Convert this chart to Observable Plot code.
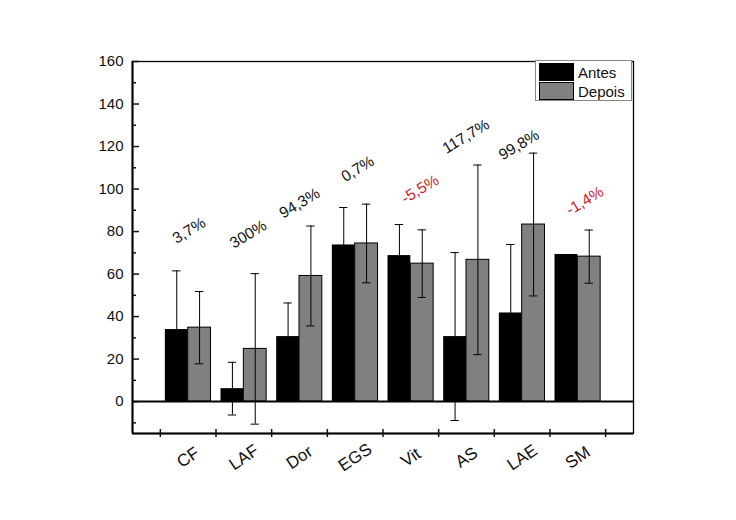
<!DOCTYPE html>
<html>
<head>
<meta charset="utf-8">
<script src="https://cdn.jsdelivr.net/npm/d3@7"></script>
<script src="https://cdn.jsdelivr.net/npm/@observablehq/plot@0.6"></script>
<style>
  html, body { margin: 0; padding: 0; background: white; }
  #wrap { position: relative; width: 736px; height: 520px; font-family: "Liberation Sans", Arial, sans-serif; }
  #legend { position: absolute; left: 535px; top: 60px; width: 97px; height: 41px; border: 1px solid #888; background: white; box-sizing: border-box; }
  .row { position: absolute; left: 3px; height: 18px; display: flex; align-items: center; font-size: 15px; color: #111; }
  .sw { width: 35px; height: 18px; box-sizing: border-box; border: 1px solid #000; margin-right: 4px; }
</style>
</head>
<body>
<div id="wrap"></div>
<script>
const categories = ["CF", "LAF", "Dor", "EGS", "Vit", "AS", "LAE", "SM"];
const antes   = [33.9, 6.1, 30.6, 73.7, 68.7, 30.6, 41.7, 69.2];
const antesSD = [27.6, 12.4, 15.8, 17.6, 14.6, 39.5, 32.2, null];
const depois   = [34.8, 24.8, 59.1, 74.4, 64.9, 66.7, 83.3, 68.2];
const depoisSD = [17.0, 35.4, 23.5, 18.5, 15.9, 44.6, 33.6, 12.5];
const changeLabels = ["3,7%", "300%", "94,3%", "0,7%", "-5,5%", "117,7%", "99,8%", "-1,4%"];
const changeY  = [74.2, 71.9, 86, 103.2, 93, 116.5, 113.4, 87.5];
const changeDx = [-0.21, -0.18, -0.29, -0.18, -0.1, -0.36, -0.35, -0.14];
const seriesNames = ["Antes", "Depois"];
const yMajor = [0, 20, 40, 60, 80, 100, 120, 140, 160];
const yMinor = [-10, 10, 30, 50, 70, 90, 110, 130, 150];

const BW = 0.41;
const rows = categories.map((c, k) => ({
  cat: c, i: k + 1,
  antes: antes[k], antesSD: antesSD[k],
  depois: depois[k], depoisSD: depoisSD[k],
  label: changeLabels[k], ly: changeY[k], ldx: changeDx[k],
  neg: changeLabels[k].startsWith("-")
}));
const errs = [];
rows.forEach(r => {
  if (r.antesSD != null) errs.push({x: r.i - BW / 2, lo: r.antes - r.antesSD, hi: r.antes + r.antesSD});
  if (r.depoisSD != null) errs.push({x: r.i + BW / 2, lo: r.depois - r.depoisSD, hi: r.depois + r.depoisSD});
});
const caps = errs.flatMap(e => [{x: e.x, y: e.lo}, {x: e.x, y: e.hi}]);
const CAP = 0.075;

const chart = Plot.plot({
  width: 736, height: 520,
  marginLeft: 132, marginRight: 103, marginTop: 61, marginBottom: 87,
  x: {type: "linear", domain: [0, 9], axis: null},
  y: {domain: [-15, 160], axis: null},
  style: {fontFamily: "'Liberation Sans', Arial, sans-serif", fontSize: "15px", color: "#111", background: "white"},
  marks: [
    Plot.rect(rows, {x1: d => d.i - BW, x2: d => d.i, y1: 0, y2: "antes", fill: "#000"}),
    Plot.rect(rows, {x1: d => d.i, x2: d => d.i + BW, y1: 0, y2: "depois", fill: "#808080", stroke: "#000", strokeWidth: 1}),
    Plot.ruleX(errs, {x: "x", y1: "lo", y2: "hi", stroke: "#000", strokeWidth: 1}),
    Plot.ruleY(caps, {y: "y", x1: d => d.x - CAP, x2: d => d.x + CAP, stroke: "#000", strokeWidth: 1}),
    Plot.ruleY([0], {stroke: "#000", strokeWidth: 2}),
    Plot.frame({stroke: "#000", strokeWidth: 1.3}),
    Plot.ruleX([0], {stroke: "#000", strokeWidth: 2}),
    Plot.ruleY([-15], {stroke: "#000", strokeWidth: 2}),
    Plot.axisY({ticks: yMajor, tickSize: 0, tickPadding: 9, fontSize: 15}),
    Plot.axisY({ticks: yMajor, tickSize: 7, dx: 7, tickFormat: () => "", strokeWidth: 1.5}),
    Plot.axisY({ticks: yMinor, tickSize: 4, dx: 4, tickFormat: () => "", strokeWidth: 1.5}),
    Plot.axisX({ticks: d3.range(0.5, 9, 1), tickSize: 8, dy: -4, tickFormat: () => "", strokeWidth: 1.5}),
    Plot.text(rows, {x: "i", frameAnchor: "bottom", text: "cat", rotate: -34, textAnchor: "middle", lineAnchor: "middle", dy: 24, fontSize: 17, fill: "#111", ariaLabel: "xlab"}),
    Plot.text(rows, {x: d => d.i + d.ldx, y: "ly", text: "label", rotate: -31, textAnchor: "start", lineAnchor: "bottom", fontSize: 15.5, fill: d => d.neg ? "#cc1f2f" : "#111"})
  ]
});

d3.select(chart).selectAll('g[aria-label="xlab"] text').style("letter-spacing", "1.5px");

const wrap = document.getElementById("wrap");
wrap.appendChild(chart);
const legend = document.createElement("div");
legend.id = "legend";
const colors = ["#000", "#808080"];
seriesNames.forEach((n, k) => {
  const r = document.createElement("div");
  r.className = "row";
  r.style.top = (2 + k * 19) + "px";
  const sw = document.createElement("div");
  sw.className = "sw";
  sw.style.background = colors[k];
  const t = document.createElement("span");
  t.textContent = n;
  r.appendChild(sw); r.appendChild(t);
  legend.appendChild(r);
});
wrap.appendChild(legend);
</script>
</body>
</html>
